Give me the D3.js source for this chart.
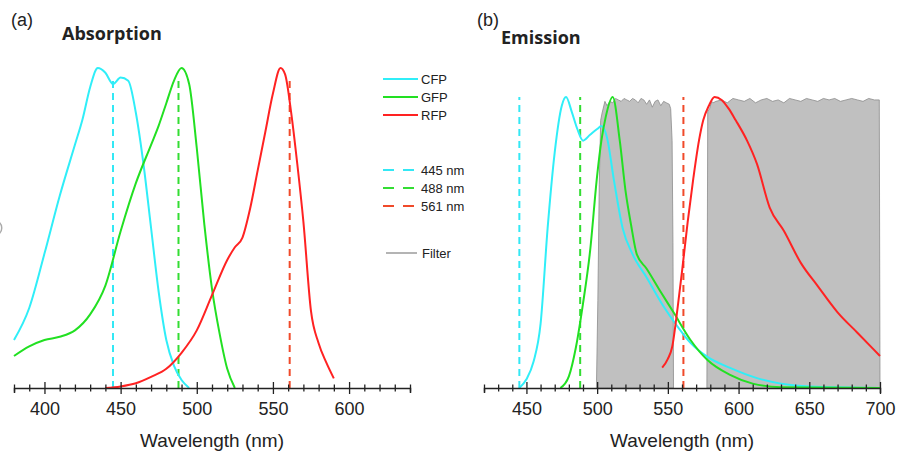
<!DOCTYPE html>
<html>
<head>
<meta charset="utf-8">
<script src="https://cdn.jsdelivr.net/npm/d3@7"></script>
<style>
  body { margin: 0; background: #fff; }
  text { font-family: "Liberation Sans", Arial, sans-serif; fill: #222; }
  .ptitle { font-family: "Open Sans", "Liberation Sans", sans-serif; font-weight: bold; }
</style>
</head>
<body>
<div id="vis"></div>
<script>
// ---- data (wavelength in nm, normalised intensity) ----
var cfpAbsWl  = [380,390,400,410,420,425,430,435,440,445,450,455,460,465,470,475,480,485,490,495];
var cfpAbs    = [0.15,0.25,0.42,0.6,0.76,0.84,0.94,1.0,0.985,0.95,0.97,0.96,0.86,0.70,0.50,0.30,0.15,0.07,0.025,0];
var gfpAbsWl  = [380,390,400,410,420,430,440,450,460,470,475,480,485,490,495,500,505,510,515,520,525];
var gfpAbs    = [0.10,0.13,0.15,0.16,0.18,0.23,0.32,0.49,0.64,0.76,0.82,0.89,0.96,1.0,0.95,0.75,0.51,0.31,0.17,0.06,0];
var rfpAbsWl  = [440,450,460,470,480,490,500,510,520,525,530,535,540,545,550,555,558,562,566,570,575,580,585,590];
var rfpAbs    = [0,0.005,0.015,0.035,0.06,0.11,0.18,0.29,0.40,0.44,0.47,0.56,0.68,0.80,0.92,1.0,0.98,0.86,0.70,0.52,0.24,0.14,0.08,0.03];

var cfpEmWl   = [445,450,455,460,465,470,475,478,482,486,490,495,500,503,507,512,518,525,535,547,557,566,578,594,613,630,650,700];
var cfpEm     = [0,0.03,0.09,0.22,0.55,0.81,0.97,1.0,0.95,0.89,0.85,0.87,0.89,0.90,0.86,0.71,0.55,0.46,0.38,0.28,0.21,0.155,0.107,0.069,0.034,0.015,0.005,0];
var gfpEmWl   = [474,480,485,490,495,500,503,506,511,516,520,524,528,535,545,554,566,578,594,610,630,700];
var gfpEm     = [0,0.04,0.14,0.29,0.47,0.73,0.85,0.93,1.0,0.85,0.68,0.56,0.46,0.41,0.33,0.26,0.165,0.096,0.045,0.015,0.003,0];
var rfpEmWl   = [546,550,553,557,560,564,568,572,575,579,583,588,593,598,606,613,622,632,644,656,670,684,700];
var rfpEm     = [0.07,0.10,0.14,0.28,0.40,0.57,0.72,0.85,0.92,0.97,1.0,0.99,0.96,0.92,0.85,0.77,0.62,0.54,0.43,0.35,0.26,0.19,0.11];

// filter transmission, two pass bands
var filter1Wl = [499.5,500.5,501.5,502.5,503.5,505.5,507,509,511,513,515,517,519,521,523,525,527,529,531,533,535,537,539,541,543,545,547,549,551,552,553,553.6,554];
var filter1T  = [0,0.3,0.7,0.92,0.945,0.985,
                 0.97,0.985,0.98,0.995,0.99,0.985,0.995,0.99,0.985,0.995,0.99,0.98,0.995,0.99,0.975,0.99,0.965,0.985,0.99,0.97,0.985,0.98,0.975,
                 0.96,0.85,0.5,0];
var filter2Wl = [577.6,578.2,579.5,581,582,
                 584,588,592,596,600,604,608,612,616,620,624,628,632,636,640,644,648,652,656,660,664,668,672,676,680,684,688,692,696,
                 699.5,700];
var filter2T  = [0,0.95,0.96,0.985,0.98,
                 0.985,0.99,0.98,0.995,0.99,0.985,0.995,0.98,0.99,0.995,0.985,0.99,0.98,0.995,0.99,0.985,0.995,0.99,0.985,0.995,0.99,0.995,0.985,0.99,0.995,0.99,0.985,0.995,0.99,
                 0.99,0];

var laserWl   = [445, 488, 561];
var laserName = ["445 nm", "488 nm", "561 nm"];
var proteins  = ["CFP", "GFP", "RFP"];

var lineColor  = { CFP: "#30eef8", GFP: "#22e022", RFP: "#ff2222" };
var laserColor = ["#33e8f5", "#33dd33", "#f04a2a"];

var width = 899, height = 451;

var svg = d3.select("#vis").append("svg")
  .attr("width", width)
  .attr("height", height);

svg.append("rect").attr("width", width).attr("height", height).attr("fill", "#fff");

// scales
var xA = d3.scaleLinear().domain([380, 640]).range([14, 410]);
var yA = d3.scaleLinear().domain([0, 1]).range([388, 68]);
var xE = d3.scaleLinear().domain([420, 700]).range([484, 880]);
var yE = d3.scaleLinear().domain([0, 1]).range([388, 97]);

function zip(wl, v) {
  return wl.map(function (w, i) { return { w: w, v: v[i] }; });
}

function drawCurve(x, y, wl, v, color) {
  var line = d3.line()
    .x(function (d) { return x(d.w); })
    .y(function (d) { return y(d.v); })
    .curve(d3.curveMonotoneX);
  svg.append("path")
    .datum(zip(wl, v))
    .attr("d", line)
    .attr("fill", "none")
    .attr("stroke", color)
    .attr("stroke-width", 2);
}

function drawLasers(x, y, top) {
  laserWl.forEach(function (w, i) {
    svg.append("line")
      .attr("x1", x(w)).attr("x2", x(w))
      .attr("y1", y(0)).attr("y2", y(top))
      .attr("stroke", laserColor[i])
      .attr("stroke-width", 2)
      .attr("stroke-dasharray", "7,5");
  });
}

function drawAxis(x, lo, hi, labelLo, labelHi, yPos) {
  var ticks = d3.range(lo, hi + 1, 10);
  var ax = d3.axisBottom(x)
    .tickValues(ticks)
    .tickSizeOuter(0)
    .tickSize(5)
    .tickFormat(function (d) { return (d % 50 === 0 && d >= labelLo && d <= labelHi) ? d : ""; });
  var g = svg.append("g")
    .attr("transform", "translate(0," + yPos + ")")
    .call(ax);
  g.select(".domain").attr("stroke", "#222").attr("stroke-width", 1.5);
  g.selectAll(".tick line")
    .attr("stroke", "#222")
    .attr("stroke-width", 1.3)
    .attr("y1", function (d) { return d % 50 === 0 ? -6 : -3.5; })
    .attr("y2", function (d) { return d % 50 === 0 ? 6 : 3.5; });
  g.selectAll(".tick text")
    .attr("y", 27).attr("dy", 0)
    .style("font-size", "18px")
    .style("font-family", "'Liberation Sans', Arial, sans-serif")
    .attr("fill", "#222");
  svg.append("text")
    .attr("x", (x.range()[0] + x.range()[1]) / 2)
    .attr("y", 447)
    .attr("text-anchor", "middle")
    .style("font-size", "19px")
    .text("Wavelength (nm)");
}

// ---- panel (a) absorption ----
drawLasers(xA, yA, 0.97);
drawCurve(xA, yA, cfpAbsWl, cfpAbs, lineColor.CFP);
drawCurve(xA, yA, gfpAbsWl, gfpAbs, lineColor.GFP);
drawCurve(xA, yA, rfpAbsWl, rfpAbs, lineColor.RFP);
drawAxis(xA, 380, 640, 400, 600, 388);

// ---- panel (b) emission ----
var area = d3.area()
  .x(function (d) { return xE(d.w); })
  .y0(yE(0))
  .y1(function (d) { return yE(d.v); });
[[filter1Wl, filter1T], [filter2Wl, filter2T]].forEach(function (b) {
  svg.append("path")
    .datum(zip(b[0], b[1]))
    .attr("d", area)
    .attr("fill", "#c0c0c0")
    .attr("stroke", "#8c8c8c")
    .attr("stroke-width", 0.8);
});

drawLasers(xE, yE, 1.0);
drawCurve(xE, yE, cfpEmWl, cfpEm, lineColor.CFP);
drawCurve(xE, yE, gfpEmWl, gfpEm, lineColor.GFP);
drawCurve(xE, yE, rfpEmWl, rfpEm, lineColor.RFP);
drawAxis(xE, 420, 700, 450, 700, 388);

// ---- titles ----
svg.append("text").attr("x", 11).attr("y", 26).style("font-size", "18px").text("(a)");
svg.append("text").attr("class", "ptitle").attr("x", 62).attr("y", 40).style("font-size", "18px").text("Absorption");
svg.append("text").attr("x", 477).attr("y", 26).style("font-size", "18px").text("(b)");
svg.append("text").attr("class", "ptitle").attr("x", 501).attr("y", 44).style("font-size", "18px").text("Emission");

// stray arc at left edge (cut-off glyph in the original)
svg.append("path")
  .attr("d", d3.arc()({ innerRadius: 7, outerRadius: 8.5, startAngle: 0, endAngle: Math.PI }))
  .attr("transform", "translate(-6,228)")
  .attr("fill", "#aaa");

// ---- legend ----
var leg = svg.append("g");
proteins.forEach(function (p, i) {
  var yy = 79 + i * 18;
  leg.append("line").attr("x1", 383).attr("x2", 418).attr("y1", yy).attr("y2", yy)
    .attr("stroke", lineColor[p]).attr("stroke-width", 2);
  leg.append("text").attr("x", 421).attr("y", yy + 5).style("font-size", "13px").text(p);
});
laserName.forEach(function (n, i) {
  var yy = 170 + i * 18;
  leg.append("line").attr("x1", 383).attr("x2", 414).attr("y1", yy).attr("y2", yy)
    .attr("stroke", laserColor[i]).attr("stroke-width", 2).attr("stroke-dasharray", "11,9");
  leg.append("text").attr("x", 421).attr("y", yy + 5).style("font-size", "13px").text(n);
});
leg.append("line").attr("x1", 386).attr("x2", 417).attr("y1", 253).attr("y2", 253)
  .attr("stroke", "#b4b4b4").attr("stroke-width", 2);
leg.append("text").attr("x", 422).attr("y", 258).style("font-size", "13px").text("Filter");
</script>
</body>
</html>
